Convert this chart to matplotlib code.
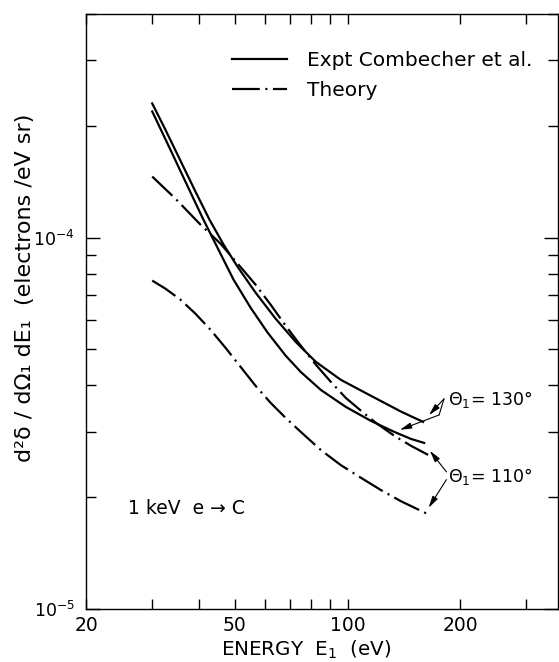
import matplotlib
matplotlib.use("Agg")
import matplotlib.pyplot as plt
import numpy as np
from matplotlib.ticker import FixedLocator, NullFormatter, FixedFormatter, LogFormatterSciNotation, LogLocator

plt.rcParams['font.family'] = ['DejaVu Sans']
plt.rcParams['lines.scale_dashes'] = False

# ---- data (energy in eV, cross section in electrons/eV sr) ----
expt130_E = [30.06, 32.58, 35.74, 39.21, 42.75, 46.61, 50.80, 56.77, 64.23, 72.66,
             82.23, 95.94, 115.47, 138.97, 159.17]
expt130_v = [2.297e-4, 1.955e-4, 1.613e-4, 1.331e-4, 1.118e-4, 9.58e-5, 8.35e-5, 7.11e-5,
             6.05e-5, 5.24e-5, 4.63e-5, 4.14e-5, 3.75e-5, 3.40e-5, 3.19e-5]

expt110_E = [30.06, 33.60, 36.86, 40.94, 44.36, 49.56, 55.04, 61.13, 68.32, 74.94,
             84.81, 98.95, 115.47, 133.09, 147.79, 160.16]
expt110_v = [2.186e-4, 1.727e-4, 1.416e-4, 1.132e-4, 9.63e-5, 7.71e-5, 6.48e-5, 5.55e-5,
             4.81e-5, 4.35e-5, 3.89e-5, 3.50e-5, 3.21e-5, 3.00e-5, 2.87e-5, 2.80e-5]

theory130_E = [30.06, 34.65, 40.44, 45.76, 51.11, 56.77, 62.28, 68.32, 74.94, 82.23,
               90.20, 98.95, 108.55, 119.09, 133.09, 147.79, 164.16]
theory130_v = [1.460e-4, 1.274e-4, 1.084e-4, 9.63e-5, 8.46e-5, 7.47e-5, 6.60e-5, 5.79e-5,
               5.12e-5, 4.55e-5, 4.09e-5, 3.70e-5, 3.42e-5, 3.17e-5, 2.93e-5, 2.75e-5, 2.60e-5]

theory110_E = [30.06, 32.58, 35.74, 39.21, 43.01, 47.19, 51.75, 56.77, 62.28, 68.32,
               74.94, 84.81, 95.94, 110.58, 122.83, 138.97, 162.15]
theory110_v = [7.66e-5, 7.29e-5, 6.81e-5, 6.24e-5, 5.65e-5, 5.05e-5, 4.49e-5, 3.99e-5,
               3.59e-5, 3.27e-5, 3.00e-5, 2.68e-5, 2.44e-5, 2.23e-5, 2.09e-5, 1.95e-5, 1.81e-5]

x_major = [20, 50, 100, 200]
x_major_labels = ['20', '50', '100', '200']
x_minor = [30, 40, 60, 70, 80, 90, 300]

legend_labels = ['Expt Combecher et al.', 'Theory']
label130 = r'$\Theta_1$= 130°'
label110 = r'$\Theta_1$= 110°'

fig = plt.figure(figsize=(5.59, 6.62), dpi=100)
ax = fig.add_axes([86/559, 53/662, 472/559, 595/662])
ax.set_xscale('log')
ax.set_yscale('log')
ax.set_xlim(20, 365)
ax.set_ylim(1e-5, 4e-4)

dd = (0, (20, 4, 1.5, 4))
lw = 1.6
l1, = ax.plot(expt130_E, expt130_v, color='black', lw=lw, label=legend_labels[0],
              solid_joinstyle='round')
ax.plot(expt110_E, expt110_v, color='black', lw=lw, label='_nolegend_', solid_joinstyle='round')
l2, = ax.plot(theory130_E, theory130_v, color='black', lw=lw, linestyle=dd, label=legend_labels[1])
ax.plot(theory110_E, theory110_v, color='black', lw=lw, linestyle=dd, label='_nolegend_')

ax.legend(handles=[l1, l2], loc='upper left', bbox_to_anchor=(0.309, 0.9378),
          frameon=False, fontsize=14.5, borderpad=0, borderaxespad=0,
          handlelength=2.73, handletextpad=1.0, labelspacing=0.54)

# ticks
ax.xaxis.set_major_locator(FixedLocator(x_major))
ax.xaxis.set_major_formatter(FixedFormatter(x_major_labels))
ax.xaxis.set_minor_locator(FixedLocator(x_minor))
ax.xaxis.set_minor_formatter(NullFormatter())
ax.yaxis.set_major_locator(LogLocator(base=10, numticks=10))
ax.yaxis.set_major_formatter(LogFormatterSciNotation())
ax.yaxis.set_minor_locator(LogLocator(base=10, subs=np.arange(2, 10), numticks=20))
ax.yaxis.set_minor_formatter(NullFormatter())

ax.tick_params(which='both', direction='in', top=True, right=True, width=1.0)
ax.tick_params(axis='x', which='major', length=7, pad=5, labelsize=13.5)
ax.tick_params(axis='x', which='minor', length=7)
ax.tick_params(axis='y', which='major', length=10, pad=8, labelsize=12.5)
ax.tick_params(axis='y', which='minor', length=7)
for t in ax.xaxis.get_major_ticks():
    if abs(t.get_loc() - 100) < 1e-6:
        t.tick1line.set_markersize(11)
        t.tick2line.set_markersize(10)
for s in ax.spines.values():
    s.set_linewidth(1.0)

ax.set_xlabel('ENERGY  E$_1$  (eV)', fontsize=14.3)
ax.xaxis.set_label_coords(0.466, -0.050)
ax.set_ylabel('d²δ / dΩ₁ dE₁  (electrons /eV sr)', fontsize=16)
ax.yaxis.set_label_coords(-0.108, 0.539)

ax.text(25.9, 1.87e-5, '1 keV  e → C', fontsize=13.5, va='center', ha='left')

ax.text(185, 3.66e-5, label130, fontsize=12.5, va='center', ha='left')
ax.text(186, 2.27e-5, label110, fontsize=12.5, va='center', ha='left')

ap = dict(arrowstyle='-|>,head_length=0.7,head_width=0.18', color='black', lw=0.8,
          shrinkA=0, shrinkB=2)
# 130 deg
ax.annotate('', xy=(expt130_E[-1] + 4, expt130_v[-1] * 1.03), xytext=(181, 3.68e-5),
            arrowprops=ap)
ax.annotate('', xy=(175.6, 3.33e-5), xytext=(181, 3.68e-5),
            arrowprops=dict(arrowstyle='-', color='black', lw=0.8, shrinkA=0, shrinkB=0))
ax.annotate('', xy=(theory130_E[-3] * 1.02, theory130_v[-3] * 1.03), xytext=(175.6, 3.33e-5),
            arrowprops=ap)
# 110 deg
ax.annotate('', xy=(theory130_E[-1], theory130_v[-1] * 1.04), xytext=(183.7, 2.34e-5),
            arrowprops=ap)
ax.annotate('', xy=(theory110_E[-1] + 1, theory110_v[-1] * 1.02), xytext=(183.7, 2.23e-5),
            arrowprops=ap)

fig.savefig('out.png', dpi=100)
